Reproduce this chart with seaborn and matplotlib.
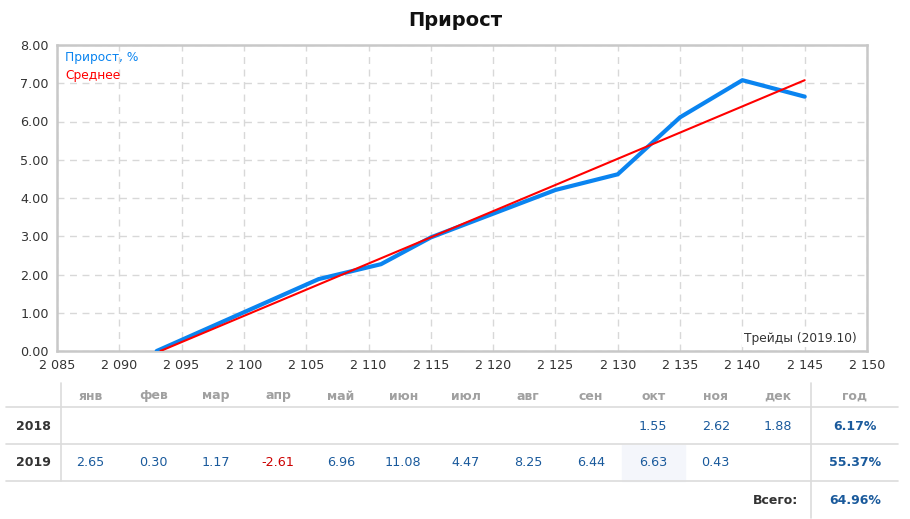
import numpy as np
import pandas as pd
import seaborn as sns
import matplotlib.pyplot as plt
from matplotlib.ticker import FuncFormatter, MultipleLocator

# chart data
trades = [2093, 2106, 2111, 2115, 2125, 2130, 2135, 2140, 2145]
growth = [0.0, 1.88, 2.27, 2.97, 4.21, 4.62, 6.11, 7.08, 6.65]
avg_trades = [2093.3, 2145]
avg_growth = [0.0, 7.08]

# monthly table
months = ["янв", "фев", "мар", "апр", "май", "июн", "июл", "авг", "сен", "окт", "ноя", "дек"]
years = ["2018", "2019"]
vals_2018 = [None] * 9 + [1.55, 2.62, 1.88]
vals_2019 = [2.65, 0.30, 1.17, -2.61, 6.96, 11.08, 4.47, 8.25, 6.44, 6.63, 0.43, None]
year_totals = ["6.17%", "55.37%"]
grand_total = "64.96%"

sns.set_style("white")
plt.rcParams['font.family'] = ['DejaVu Sans']

BLUE = "#0a84f0"
RED = "#ff0000"
VAL = "#1a5a9c"
DARK = "#333333"

fig = plt.figure(figsize=(9.1, 5.19), dpi=100)
W, H = 910, 519
ax = fig.add_axes([57 / W, 1 - 351 / H, 810 / W, 306 / H])

df = pd.DataFrame({"trades": trades, "growth": growth})
df_avg = pd.DataFrame({"trades": avg_trades, "growth": avg_growth})
sns.lineplot(data=df, x="trades", y="growth", color=BLUE, linewidth=3.0, ax=ax, zorder=3)
sns.lineplot(data=df_avg, x="trades", y="growth", color=RED, linewidth=1.5, ax=ax, zorder=4)

ax.set_xlim(2085, 2150)
ax.set_ylim(0, 8)
ax.xaxis.set_major_locator(MultipleLocator(5))
ax.yaxis.set_major_locator(MultipleLocator(1))
ax.xaxis.set_major_formatter(FuncFormatter(lambda v, p: f"{int(v):,}".replace(",", " ")))
ax.yaxis.set_major_formatter(FuncFormatter(lambda v, p: f"{v:.2f}"))
ax.grid(True, color="#d8d8d8", linestyle=(0, (5, 4)), linewidth=1)
ax.set_xlabel("")
ax.set_ylabel("")
ax.tick_params(axis="both", length=0, labelsize=9.2, labelcolor=DARK, pad=6)
for s in ax.spines.values():
    s.set_color("#c8c8c8")
    s.set_linewidth(1.8)

fig.text(455 / W, 1 - 21 / H, "Прирост", ha="center", va="center",
         fontsize=14, fontweight="bold", color="#111111")
ax.text(0.01, 0.96, "Прирост, %", transform=ax.transAxes, color=BLUE,
        fontsize=8.8, va="center", ha="left")
ax.text(0.01, 0.90, "Среднее", transform=ax.transAxes, color=RED,
        fontsize=8.8, va="center", ha="left")
ax.text(0.987, 0.04, "Трейды (2019.10)", transform=ax.transAxes, color=DARK,
        fontsize=8.8, va="center", ha="right",
        bbox=dict(facecolor="white", edgecolor="none", pad=1.5), zorder=5)

# table drawn in pixel space
tab = fig.add_axes([0, 0, 1, 1], zorder=-1)
tab.set_xlim(0, W)
tab.set_ylim(H, 0)
tab.axis("off")

LINE = "#dcdcdc"
for y in [407, 444, 481]:
    tab.plot([6, 898], [y, y], color=LINE, linewidth=1.2)
tab.plot([60.5, 60.5], [383, 481], color=LINE, linewidth=1.2)
tab.plot([811, 811], [383, 518], color=LINE, linewidth=1.2)

col_x = [90.7 + 62.5 * i for i in range(len(months))]
row_y = [426, 463]
# highlighted cell (current month)
tab.fill_between([col_x[9] - 31.5, col_x[9] + 31.5], 444.5, 480.5, color="#f4f6fb", zorder=0)

for x, m in zip(col_x, months):
    tab.text(x, 396, m, ha="center", va="center", fontsize=9,
             fontweight="bold", color="#a0a0a0")
tab.text(855, 396, "год", ha="center", va="center", fontsize=9,
         fontweight="bold", color="#a0a0a0")

for y, yr, vals, tot in zip(row_y, years, [vals_2018, vals_2019], year_totals):
    tab.text(33, y, yr, ha="center", va="center", fontsize=9,
             fontweight="bold", color=DARK)
    for x, v in zip(col_x, vals):
        if v is None:
            continue
        tab.text(x, y, f"{v:.2f}", ha="center", va="center", fontsize=9.2,
                 color="#cc0000" if v < 0 else VAL)
    tab.text(855, y, tot, ha="center", va="center", fontsize=9,
             fontweight="bold", color=VAL)

tab.text(798, 500, "Всего:", ha="right", va="center", fontsize=9,
         fontweight="bold", color=DARK)
tab.text(855, 500, grand_total, ha="center", va="center", fontsize=9,
         fontweight="bold", color=VAL)

fig.savefig("out.png", dpi=100)
